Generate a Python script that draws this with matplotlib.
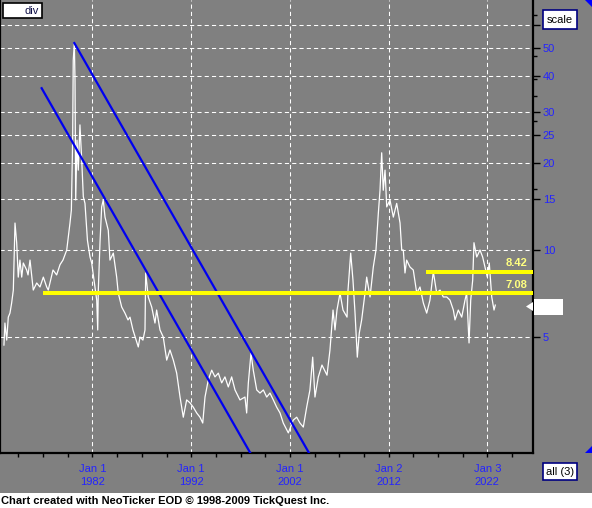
"""Dividend chart redrawn in the NeoTicker style."""

import matplotlib
matplotlib.use('Agg')

import matplotlib.pyplot as plt

from matplotlib.patches import Rectangle, Polygon

from matplotlib.ticker import FixedLocator, NullFormatter

W, H = 592, 508

GRAY = '#808080'
TICK_BLUE = '#2424ff'

YEARS = [1973.03, 1973.13, 1973.31, 1973.47, 1973.64, 1973.81, 1973.98, 1974.15, 1974.32, 1974.48,
         1974.65, 1974.83, 1974.99, 1975.33, 1975.47, 1975.67, 1976.0, 1976.35, 1976.68, 1977.02,
         1977.36, 1977.52, 1977.69, 1978.0, 1978.37, 1978.71, 1979.01, 1979.39, 1979.72, 1979.86,
         1979.99, 1980.05, 1980.16, 1980.23, 1980.30, 1980.43, 1980.56, 1980.73, 1980.91, 1981.07,
         1981.24, 1981.49, 1981.75, 1981.92, 1982.25, 1982.43, 1982.53, 1982.59, 1982.76, 1982.93,
         1983.09, 1983.27, 1983.60, 1983.77, 1984.11, 1984.45, 1984.61, 1984.96, 1985.29, 1985.6,
         1985.80, 1986.10, 1986.51, 1986.64, 1986.81, 1987.11, 1987.32, 1987.39, 1987.65, 1988.0,
         1988.33, 1988.50, 1988.84, 1989.17, 1989.52, 1989.85, 1990.19, 1990.53, 1990.87, 1991.20,
         1991.54, 1991.88, 1992.21, 1992.56, 1992.89, 1993.17, 1993.40, 1993.73, 1994.08, 1994.41,
         1994.75, 1995.09, 1995.42, 1995.76, 1996.10, 1996.44, 1996.94, 1997.45, 1997.62, 1997.79,
         1998.06, 1998.29, 1998.64, 1998.97, 1999.31, 1999.65, 1999.98, 2000.32, 2000.66, 2001.0,
         2001.33, 2001.84, 2002.34, 2002.69, 2003.02, 2003.36, 2003.70, 2004.03, 2004.31, 2004.54,
         2004.88, 2005.25, 2005.76, 2006.06, 2006.37, 2006.57, 2006.77, 2007.08, 2007.38, 2007.79,
         2007.89, 2008.16, 2008.39, 2008.60, 2008.83, 2009.03, 2009.27, 2009.61, 2009.78, 2010.12,
         2010.45, 2010.72, 2010.96, 2011.13, 2011.30, 2011.46, 2011.64, 2011.81, 2012.14, 2012.48,
         2012.82, 2013.16, 2013.33, 2013.49, 2013.66, 2013.83, 2014.17, 2014.50, 2014.85, 2015.18,
         2015.52, 2015.86, 2016.19, 2016.53, 2016.87, 2017.21, 2017.54, 2017.89, 2018.22, 2018.56,
         2018.73, 2019.06, 2019.41, 2019.74, 2019.91, 2020.15, 2020.32, 2020.52, 2020.65, 2020.93,
         2021.26, 2021.53, 2021.77, 2022.0, 2022.20, 2022.45, 2022.68, 2022.81]

DIV = [4.69, 5.59, 4.88, 5.86, 6.05, 6.56, 7.27, 12.4, 10.6, 8.06,
       9.23, 8.06, 9.02, 8.53, 8.2, 9.23, 7.27, 7.69, 7.45, 8.06,
       7.45, 7.27, 7.69, 8.53, 8.2, 8.9, 9.23, 10.0, 12.4, 13.75,
       24.0, 45.4, 52.0, 38.7, 14.9, 24.0, 18.9, 27.1, 20.5, 15.3,
       14.5, 10.8, 9.46, 9.02, 7.45, 6.71, 5.29, 7.27, 10.6, 14.1,
       14.9, 13.0, 11.7, 9.23, 9.76, 8.06, 7.10, 6.35, 6.05, 5.73,
       5.86, 5.29, 4.77, 4.62, 5.00, 4.88, 5.29, 8.33, 6.88, 6.35,
       5.59, 6.20, 5.29, 5.00, 4.16, 4.51, 4.16, 3.75, 3.10, 2.64,
       3.03, 2.96, 2.86, 2.73, 2.64, 2.52, 3.10, 3.55, 3.84, 3.64,
       3.75, 3.47, 3.64, 3.36, 3.64, 3.28, 3.03, 3.10, 2.73, 3.47,
       4.40, 3.84, 3.28, 3.20, 3.28, 3.10, 3.20, 3.03, 2.86, 2.73,
       2.52, 2.33, 2.58, 2.64, 2.52, 2.44, 2.86, 3.28, 4.26, 3.10,
       3.64, 4.0, 3.69, 4.51, 6.20, 5.29, 6.20, 7.10, 6.20, 5.86,
       7.27, 9.76, 7.87, 6.05, 4.26, 5.16, 5.73, 7.10, 8.06, 6.88,
       8.73, 10.0, 13.4, 16.1, 21.7, 16.1, 18.9, 14.1, 14.9, 13.0,
       14.5, 12.4, 10.0, 10.0, 8.33, 9.23, 8.73, 8.53, 7.10, 7.45,
       6.56, 6.05, 6.71, 8.42, 7.10, 7.27, 6.88, 6.88, 6.71, 6.20,
       5.73, 6.20, 5.86, 6.71, 7.10, 4.77, 6.71, 7.87, 10.6, 9.46,
       10.0, 9.46, 8.73, 8.06, 9.02, 6.88, 6.20, 6.45]

# blue trend lines (start, end)
TREND_A_X = [1980.16, 2003.94]
TREND_A_Y = [52.0, 1.985]
TREND_B_X = [1976.85, 1997.99]
TREND_B_Y = [36.3, 1.985]

# yellow levels
LEVELS = [7.08, 8.42]
LEVEL_START = [1977.02, 2015.76]

Y_TICKS = [5, 10, 15, 20, 25, 30, 40, 50, 60]
Y_MINOR = [65, 47, 39, 34, 28, 16.3]
X_TICKS = [1982, 1992, 2002, 2012, 2022]
X_LABELS = ['Jan 1\n1982', 'Jan 1\n1992', 'Jan 1\n2002', 'Jan 2\n2012', 'Jan 3\n2022']
X_MINOR = [1974.5 + 2.5 * i for i in range(21)]

XLIM = (1972.63, 2026.63)
YLIM = (1.985, 73.3)


def px(x, y):
    """pixel (y down) -> figure fraction"""
    return x / W, 1 - y / H


def box(fig, x0, y0, x1, y1, text, edge, tcolor, ha='center'):
    fig.patches.append(Rectangle(px(x0, y1), (x1 - x0) / W, (y1 - y0) / H,
                                 transform=fig.transFigure, facecolor='white',
                                 edgecolor=edge, linewidth=1.2, zorder=5))
    tx = (x0 + x1) / 2 if ha == 'center' else x1 - 3
    fig.text(*px(tx, (y0 + y1) / 2 + 0.5), text, ha=ha, va='center', fontsize=8,
             color=tcolor, family='Liberation Sans', zorder=6)


plt.rcParams['font.family'] = ['Liberation Sans', 'DejaVu Sans']

fig = plt.figure(figsize=(W / 100, H / 100), dpi=100, facecolor=GRAY)
ax = fig.add_axes([0, 55 / H, 533 / W, 453 / H])
ax.set_facecolor(GRAY)

ax.plot(YEARS, DIV, color='white', linewidth=0.9, zorder=3)
ax.plot(TREND_A_X, TREND_A_Y, color='#0000f0', linewidth=1.6, zorder=4)
ax.plot(TREND_B_X, TREND_B_Y, color='#0000f0', linewidth=1.6, zorder=4)
for lvl, x0 in zip(LEVELS, LEVEL_START):
    ax.plot([x0, XLIM[1]], [lvl, lvl], color='#ffff00', linewidth=2.9, zorder=4,
            solid_capstyle='butt')
    ax.annotate(f'{lvl:.2f}', xy=(XLIM[1], lvl), xytext=(-6, 3.5), textcoords='offset pixels',
                ha='right', va='bottom', fontsize=8, fontweight='bold', color='#ffff80', zorder=5)

ax.set_yscale('log')
ax.set_xlim(*XLIM)
ax.set_ylim(*YLIM)

ax.yaxis.tick_right()
ax.yaxis.set_major_locator(FixedLocator(Y_TICKS))
ax.yaxis.set_minor_locator(FixedLocator(Y_MINOR))
ax.yaxis.set_minor_formatter(NullFormatter())
ax.set_yticklabels([str(t) for t in Y_TICKS])
ax.set_xticks(X_TICKS)
ax.set_xticklabels(X_LABELS, linespacing=1.4)
ax.set_xticks(X_MINOR, minor=True)

ax.tick_params(axis='y', which='major', length=5, width=1, color='black',
               labelcolor=TICK_BLUE, labelsize=8, pad=2)
ax.tick_params(axis='y', which='minor', length=3, width=1, color='black')
ax.tick_params(axis='x', which='both', length=3, width=1, color='black',
               labelcolor=TICK_BLUE, labelsize=8, pad=5)

ax.grid(True, which='major', color='white', linestyle=(0, (4, 3)), linewidth=0.75)

ax.spines['top'].set_visible(False)
for side in ['left', 'bottom', 'right']:
    ax.spines[side].set_color('black')
    ax.spines[side].set_linewidth(1.6)

# footer strip
fig.patches.append(Rectangle((0, 0), 1, 15 / H, transform=fig.transFigure,
                             facecolor='white', edgecolor='none', zorder=1))
fig.text(*px(1, 501), 'Chart created with NeoTicker EOD \u00a9 1998-2009 TickQuest Inc.',
         ha='left', va='center', fontsize=8, fontweight='bold', color='black',
         family='Liberation Sans')

# label boxes
box(fig, 3, 3, 42, 18, 'div', 'black', '#101048', ha='right')
box(fig, 543, 10, 577, 29, 'scale', '#000080', 'black')
box(fig, 543, 463, 577, 480, 'all (3)', '#000080', 'black')

# last value marker
fig.patches.append(Rectangle(px(534, 315), 29 / W, 16 / H, transform=fig.transFigure,
                             facecolor='white', edgecolor='none', zorder=5))
fig.patches.append(Polygon([px(526, 306.5), px(533, 302), px(533, 311)], closed=True,
                           transform=fig.transFigure, facecolor='white', edgecolor='none', zorder=5))

# corner arrows
fig.patches.append(Polygon([px(585, 0), px(592, 0), px(592, 7)], closed=True,
                           transform=fig.transFigure, facecolor='#0000ff', edgecolor='none', zorder=5))
fig.patches.append(Polygon([px(592, 446), px(592, 453), px(585, 453)], closed=True,
                           transform=fig.transFigure, facecolor='#0000ff', edgecolor='none', zorder=5))

fig.savefig('out.png', dpi=100, facecolor=GRAY)
